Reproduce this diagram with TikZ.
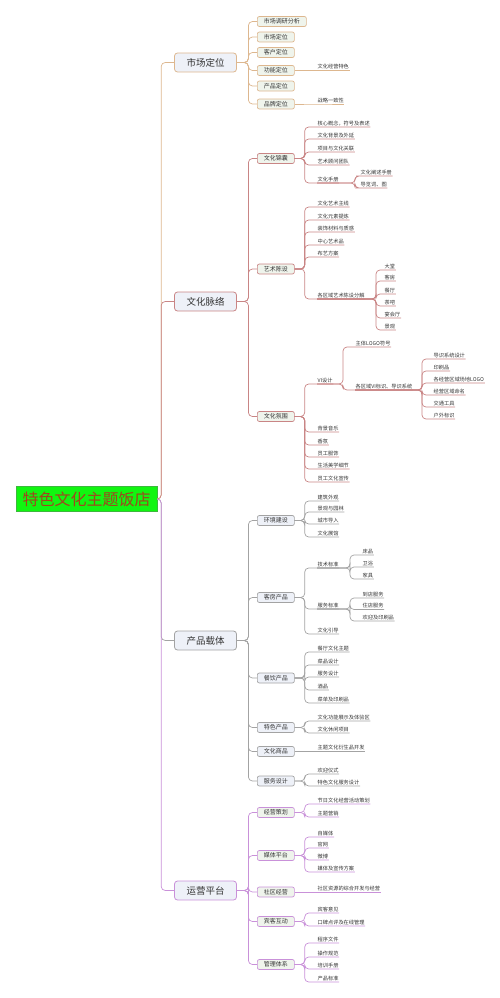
\documentclass[tikz,border=0pt]{standalone}
\usepackage{fontspec}
\setmainfont{Noto Sans CJK SC}
\definecolor{mkt}{HTML}{DDB78F}
\definecolor{cul}{HTML}{C98585}
\definecolor{prd}{HTML}{A3A3A3}
\definecolor{ops}{HTML}{C991D9}
\definecolor{txt}{HTML}{333333}
\definecolor{mainfill}{HTML}{EEF1F8}
\definecolor{subfill}{HTML}{EFF4EC}
\definecolor{rootfill}{HTML}{11F511}
\definecolor{rootedge}{HTML}{3CB93C}
\definecolor{roottext}{HTML}{A0461E}
\begin{document}
\begin{tikzpicture}[x=1pt, y=-1pt,
  rootbox/.style={draw=rootedge, fill=rootfill, text=roottext, font=\fontsize{16}{18}\selectfont,
    minimum width=141pt, minimum height=25pt, inner sep=0pt},
  mainbox/.style={draw=#1, fill=mainfill, rounded corners=3pt, line width=0.8pt, minimum width=62pt,
    minimum height=19pt, inner sep=1pt, font=\fontsize{9.5}{11}\selectfont, text=txt},
  subbox/.style={draw=#1, fill=subfill, rounded corners=2pt, line width=0.7pt, minimum width=37pt,
    minimum height=10pt, inner sep=1.5pt, anchor=west, font=\fontsize{6}{7}\selectfont, text=txt},
  leaf/.style={anchor=south west, inner xsep=0.5pt, inner ysep=1pt, font=\fontsize{5.2}{6}\selectfont, text=txt},
  link/.style={draw=#1, line width=0.7pt, rounded corners=4pt}]
\useasboundingbox (0,0) rectangle (500,998);

% root and main topics
\node[rootbox] (root) at (86.5,499) {特色文化主题饭店};
\node[mainbox=mkt] (m) at (205.5,62.5) {市场定位};
\node[mainbox=cul] (c) at (205.5,301.5) {文化脉络};
\node[mainbox=prd] (p) at (205.5,640.5) {产品载体};
\node[mainbox=ops] (o) at (205.5,890.5) {运营平台};
\draw[link=mkt] (root.east) -- ++(4,0) |- (m.west);
\draw[link=cul] (root.east) -- ++(4,0) |- (c.west);
\draw[link=prd] (root.east) -- ++(4,0) |- (p.west);
\draw[link=ops] (root.east) -- ++(4,0) |- (o.west);

% ---- market
\node[subbox=mkt, minimum width=49pt] (m1) at (257,21.5) {市场调研分析};
\node[subbox=mkt] (m2) at (257,37) {市场定位};
\node[subbox=mkt] (m3) at (257,52.5) {客户定位};
\node[subbox=mkt] (m4) at (257,70.5) {功能定位};
\node[subbox=mkt] (m5) at (257,86) {产品定位};
\node[subbox=mkt] (m6) at (257,104) {品牌定位};
\foreach \i in {1,...,6}
  \draw[link=mkt] (m.east) -- ++(11.5,0) |- (m\i.west);
\node[leaf] (m4a) at (317,70.5) {文化经营特色};
\node[leaf] (m6a) at (317,104) {战略一致性};
\draw[link=mkt] (m4.east) -- (m4a.south west) -- (m4a.south east);
\draw[link=mkt] (m6.east) -- (m6a.south west) -- (m6a.south east);

% ---- culture
\node[subbox=cul] (c1) at (257,158.5) {文化锦囊};
\node[subbox=cul] (c2) at (257,269) {艺术陈设};
\node[subbox=cul] (c3) at (257,416.5) {文化氛围};
\foreach \i in {1,2,3}
  \draw[link=cul] (c.east) -- ++(11.5,0) |- (c\i.west);
\foreach \y/\t [count=\i] in {127/核心概念，符号及表述, 139/文化背景及外延, 152/项目与文化关联,
    165/艺术顾问团队, 183/文化手册} {
  \node[leaf] (c1-\i) at (317,\y) {\t};
  \draw[link=cul] (c1.east) -- ++(10,0) |- (c1-\i.south west) -- (c1-\i.south east);
}
\foreach \y/\t [count=\i] in {176/文化阐述手册, 188/导览词、图} {
  \node[leaf] (c1-5-\i) at (360,\y) {\t};
  \draw[link=cul] (c1-5.south west) -- ++(38,0) |- (c1-5-\i.south west) -- (c1-5-\i.south east);
}
\foreach \y/\t [count=\i] in {207/文化艺术主线, 220/文化元素提炼, 232/装饰材料与质感, 245/中心艺术品,
    257/布艺方案, 299/各区域艺术陈设分解} {
  \node[leaf] (c2-\i) at (317,\y) {\t};
  \draw[link=cul] (c2.east) -- ++(10,0) |- (c2-\i.south west) -- (c2-\i.south east);
}
\foreach \y/\t [count=\i] in {270/大堂, 281/客房, 294/餐厅, 306/茶吧, 318/宴会厅, 330/景观} {
  \node[leaf] (c2-6-\i) at (384,\y) {\t};
  \draw[link=cul] (c2-6.south west) -- ++(59,0) |- (c2-6-\i.south west) -- (c2-6-\i.south east);
}
\foreach \y/\t [count=\i] in {384/VI设计, 432/背景音乐, 445/香氛, 457/员工服饰, 469/生活美学细节,
    482/员工文化宣传} {
  \node[leaf] (c3-\i) at (317,\y) {\t};
  \draw[link=cul] (c3.east) -- ++(10,0) |- (c3-\i.south west) -- (c3-\i.south east);
}
\foreach \y/\t [count=\i] in {347/主体LOGO符号, 390/各区域VI标识、导识系统} {
  \node[leaf] (c3-1-\i) at (355,\y) {\t};
  \draw[link=cul] (c3-1.south west) -- ++(26,0) |- (c3-1-\i.south west) -- (c3-1-\i.south east);
}
\foreach \y/\t [count=\i] in {359/导识系统设计, 371/印刷品, 383/各经营区域场地LOGO, 395/经营区域命名,
    407/交通工具, 419/户外标识} {
  \node[leaf] (c3-1-2-\i) at (433,\y) {\t};
  \draw[link=cul] (c3-1-2.south west) -- ++(67,0) |- (c3-1-2-\i.south west) -- (c3-1-2-\i.south east);
}

% ---- products
\tikzset{subbox/.append style={fill=mainfill}}
\node[subbox=prd] (p1) at (257,520.5) {环境建设};
\node[subbox=prd] (p2) at (257,597.5) {客房产品};
\node[subbox=prd] (p3) at (257,678) {餐饮产品};
\node[subbox=prd] (p4) at (257,727.5) {特色产品};
\node[subbox=prd] (p5) at (257,751.5) {文化商品};
\node[subbox=prd] (p6) at (257,781) {服务设计};
\foreach \i in {1,...,6}
  \draw[link=prd] (p.east) -- ++(11.5,0) |- (p\i.west);
\foreach \y/\t [count=\i] in {501/建筑外观, 512/景观与园林, 524/城市导入, 537/文化展馆} {
  \node[leaf] (p1-\i) at (317,\y) {\t};
  \draw[link=prd] (p1.east) -- ++(10,0) |- (p1-\i.south west) -- (p1-\i.south east);
}
\foreach \y/\t [count=\i] in {568/技术标准, 609/服务标准, 634/文化引导} {
  \node[leaf] (p2-\i) at (317,\y) {\t};
  \draw[link=prd] (p2.east) -- ++(10,0) |- (p2-\i.south west) -- (p2-\i.south east);
}
\foreach \y/\t [count=\i] in {555/床品, 567/卫浴, 579/家具} {
  \node[leaf] (p2-1-\i) at (362,\y) {\t};
  \draw[link=prd] (p2-1.south west) -- ++(33,0) |- (p2-1-\i.south west) -- (p2-1-\i.south east);
}
\foreach \y/\t [count=\i] in {598/到店服务, 609.5/住店服务, 621/欢迎及印刷品} {
  \node[leaf] (p2-2-\i) at (362,\y) {\t};
  \draw[link=prd] (p2-2.south west) -- ++(33,0) |- (p2-2-\i.south west) -- (p2-2-\i.south east);
}
\foreach \y/\t [count=\i] in {652/餐厅文化主题, 665/菜品设计, 677/服务设计, 690/酒品, 703/菜单及印刷品} {
  \node[leaf] (p3-\i) at (317,\y) {\t};
  \draw[link=prd] (p3.east) -- ++(10,0) |- (p3-\i.south west) -- (p3-\i.south east);
}
\foreach \y/\t [count=\i] in {721/文化功能展示及体验区, 733/文化休闲项目} {
  \node[leaf] (p4-\i) at (317,\y) {\t};
  \draw[link=prd] (p4.east) -- ++(10,0) |- (p4-\i.south west) -- (p4-\i.south east);
}
\node[leaf] (p5-1) at (317,751.5) {主题文化衍生品开发};
\draw[link=prd] (p5.east) -- (p5-1.south west) -- (p5-1.south east);
\foreach \y/\t [count=\i] in {774/欢迎仪式, 786/特色文化服务设计} {
  \node[leaf] (p6-\i) at (317,\y) {\t};
  \draw[link=prd] (p6.east) -- ++(10,0) |- (p6-\i.south west) -- (p6-\i.south east);
}

% ---- operations
\tikzset{subbox/.append style={fill=subfill}}
\node[subbox=ops] (o1) at (257,812.5) {经营策划};
\node[subbox=ops] (o2) at (257,855.5) {媒体平台};
\node[subbox=ops] (o3) at (257,892) {社区经营};
\node[subbox=ops] (o4) at (257,921.5) {宾客互动};
\node[subbox=ops] (o5) at (257,964.5) {管理体系};
\foreach \i in {1,...,5}
  \draw[link=ops] (o.east) -- ++(11.5,0) |- (o\i.west);
\foreach \y/\t [count=\i] in {804/节日文化经营活动策划, 817/主题营销} {
  \node[leaf] (o1-\i) at (317,\y) {\t};
  \draw[link=ops] (o1.east) -- ++(10,0) |- (o1-\i.south west) -- (o1-\i.south east);
}
\foreach \y/\t [count=\i] in {837/自媒体, 848/官网, 860/微博, 872/媒体及宣传方案} {
  \node[leaf] (o2-\i) at (317,\y) {\t};
  \draw[link=ops] (o2.east) -- ++(10,0) |- (o2-\i.south west) -- (o2-\i.south east);
}
\node[leaf] (o3-1) at (317,892) {社区资源的综合开发与经营};
\draw[link=ops] (o3.east) -- (o3-1.south west) -- (o3-1.south east);
\foreach \y/\t [count=\i] in {913/宾客意见, 926/口碑点评及在线管理} {
  \node[leaf] (o4-\i) at (317,\y) {\t};
  \draw[link=ops] (o4.east) -- ++(10,0) |- (o4-\i.south west) -- (o4-\i.south east);
}
\foreach \y/\t [count=\i] in {943/程序文件, 957/操作规范, 969/培训手册, 982/产品标准} {
  \node[leaf] (o5-\i) at (317,\y) {\t};
  \draw[link=ops] (o5.east) -- ++(10,0) |- (o5-\i.south west) -- (o5-\i.south east);
}
\end{tikzpicture}
\end{document}
